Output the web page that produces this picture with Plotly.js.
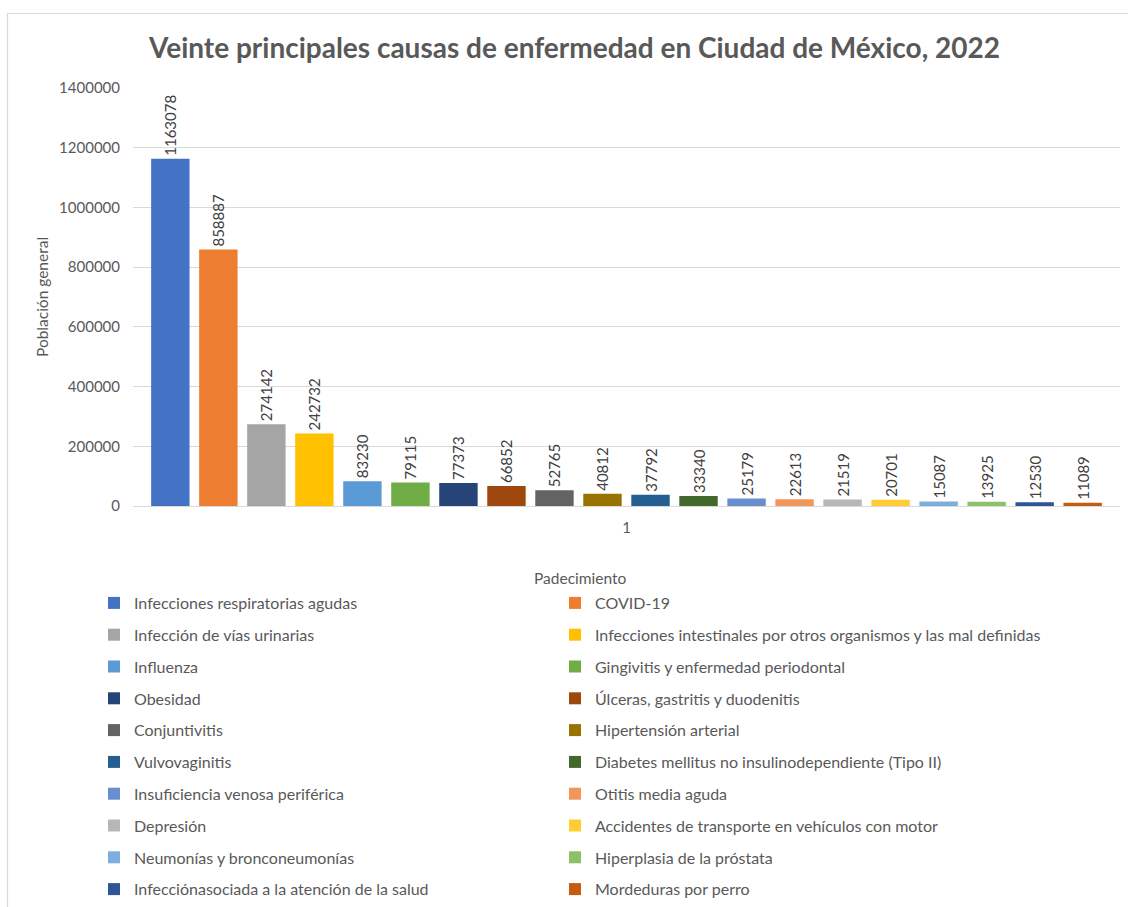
<!DOCTYPE html>
<html>
<head>
<meta charset="utf-8">
<script src="https://cdn.plot.ly/plotly-3.0.1.min.js"></script>
<style>html,body{margin:0;padding:0;background:#fff;}#chart{width:1128px;height:907px;}</style>
</head>
<body>
<div id="chart"></div>
<script>
const causes = [
  "Infecciones respiratorias agudas",
  "COVID-19",
  "Infección de vías urinarias",
  "Infecciones intestinales por otros organismos y las mal definidas",
  "Influenza",
  "Gingivitis y enfermedad periodontal",
  "Obesidad",
  "Úlceras, gastritis y duodenitis",
  "Conjuntivitis",
  "Hipertensión arterial",
  "Vulvovaginitis",
  "Diabetes mellitus no insulinodependiente (Tipo II)",
  "Insuficiencia venosa periférica",
  "Otitis media aguda",
  "Depresión",
  "Accidentes de transporte en vehículos con motor",
  "Neumonías y bronconeumonías",
  "Hiperplasia de la próstata",
  "Infecciónasociada a la atención de la salud",
  "Mordeduras por perro"
];
const cases = [1163078, 858887, 274142, 242732, 83230, 79115, 77373, 66852, 52765, 40812,
               37792, 33340, 25179, 22613, 21519, 20701, 15087, 13925, 12530, 11089];
const category = ["1"];
const yTicks = [0, 200000, 400000, 600000, 800000, 1000000, 1200000, 1400000];
const colors = ["#4472C4", "#ED7D31", "#A5A5A5", "#FFC000", "#5B9BD5", "#70AD47",
                "#264478", "#9E480E", "#636363", "#997300", "#255E91", "#43682B",
                "#698ED0", "#F1975A", "#B7B7B7", "#FFCD33", "#7CAFDD", "#8CC168",
                "#2F5597", "#C55A11"];

const FONT = "Lato, 'Open Sans', sans-serif";
const GRAY = "#595959";

const traces = causes.map((name, i) => ({
  type: "bar",
  name: name,
  x: category,
  y: [cases[i]],
  text: [String(cases[i])],
  textposition: "outside",
  textangle: -90,
  constraintext: "none",
  cliponaxis: false,
  textfont: {family: FONT, size: 15, color: "#404040"},
  marker: {color: colors[i], line: {width: 0}},
  legend: (i % 2 === 0) ? "legend" : "legend2",
  legendgroup: "g" + i,
  hoverinfo: "name+y"
}));

const legendCommon = {
  xref: "container", yref: "container",
  yanchor: "top", xanchor: "left",
  orientation: "v",
  traceorder: "grouped",
  tracegroupgap: 8,
  font: {family: FONT, size: 16, color: GRAY},
  bgcolor: "rgba(0,0,0,0)",
  borderwidth: 0
};

const layout = {
  width: 1128,
  height: 907,
  margin: {l: 133, r: 8, t: 88, b: 401, pad: 0, autoexpand: false},
  paper_bgcolor: "#ffffff",
  plot_bgcolor: "#ffffff",
  font: {family: FONT, color: GRAY},
  title: {
    text: "<b>Veinte principales causas de enfermedad en Ciudad de México, 2022</b>",
    font: {family: FONT, size: 28, color: GRAY},
    xref: "container", yref: "container",
    x: 574.5 / 1128, xanchor: "center",
    y: 1 - 48 / 907, yanchor: "middle"
  },
  barmode: "group",
  bargap: 0.027,
  bargroupgap: 0.2,
  showlegend: true,
  legend: Object.assign({}, legendCommon, {x: 94 / 1128, y: 1 - 586 / 907}),
  legend2: Object.assign({}, legendCommon, {x: 555 / 1128, y: 1 - 586 / 907}),
  xaxis: {
    type: "category",
    showgrid: false,
    showline: true,
    linecolor: "#d9d9d9",
    linewidth: 1,
    ticks: "",
    ticklabelstandoff: 8,
    tickfont: {family: FONT, size: 15, color: GRAY},
    zeroline: false,
    fixedrange: true
  },
  yaxis: {
    range: [0, 1400000],
    tickvals: yTicks,
    ticktext: yTicks.map(String),
    showgrid: true,
    gridcolor: "#d9d9d9",
    gridwidth: 1,
    zeroline: false,
    showline: false,
    ticks: "",
    ticklabelstandoff: 12,
    tickfont: {family: FONT, size: 15, color: GRAY},
    fixedrange: true
  },
  annotations: [{
    text: "Padecimiento",
    xref: "paper", yref: "paper",
    x: (580 - 133) / 987, y: (506 - 578) / 418,
    xanchor: "center", yanchor: "middle",
    showarrow: false,
    font: {family: FONT, size: 15.5, color: GRAY}
  }, {
    text: "Población general",
    xref: "paper", yref: "paper",
    x: (42 - 133) / 987, y: 0.5,
    xanchor: "center", yanchor: "middle",
    textangle: -90,
    showarrow: false,
    font: {family: FONT, size: 15.5, color: GRAY}
  }],
  shapes: [{
    type: "rect", xref: "paper", yref: "paper", layer: "below",
    x0: (7.5 - 133) / 987, x1: (1140 - 133) / 987,
    y0: (506 - 920) / 418, y1: (506 - 13.5) / 418,
    line: {color: "#d9d9d9", width: 1.2},
    fillcolor: "rgba(0,0,0,0)"
  }]
};

Plotly.newPlot("chart", traces, layout, {displayModeBar: false, responsive: false});
</script>
</body>
</html>
